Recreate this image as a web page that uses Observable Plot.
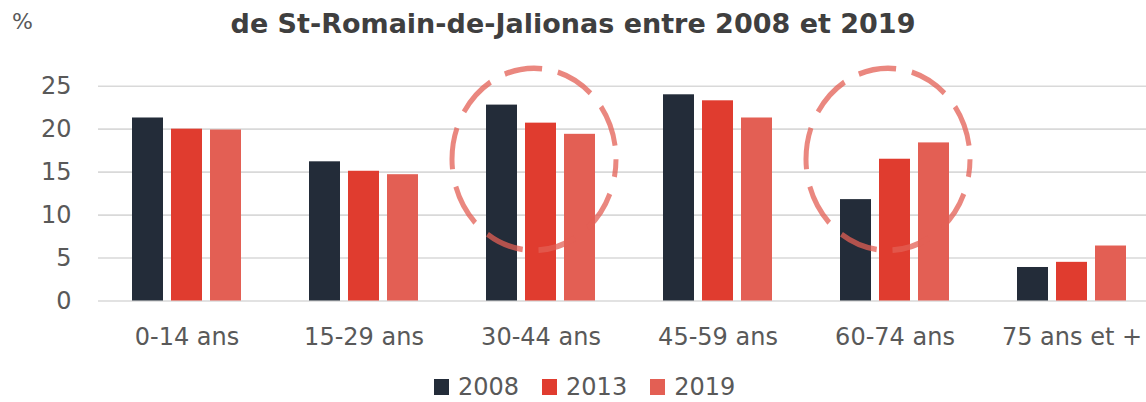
<!DOCTYPE html>
<html><head><meta charset="utf-8">
<script src="https://cdn.jsdelivr.net/npm/d3@7"></script>
<script src="https://cdn.jsdelivr.net/npm/@observablehq/plot@0.6"></script>
<style>
html,body{margin:0;padding:0;background:#fff;overflow:hidden;}
#wrap{position:relative;width:1146px;height:402px;font-family:"DejaVu Sans",sans-serif;}
#pct{position:absolute;left:12px;top:11px;font-size:22px;color:#595959;line-height:1;}
#title{position:absolute;left:0;width:1146px;top:10px;text-align:center;font-weight:bold;font-size:27px;color:#3f3f3f;line-height:1;white-space:nowrap;}
#chart{position:absolute;left:0;top:45px;width:1146px;overflow:hidden;}
#chart circle{transform-box:fill-box;transform-origin:center;transform:scaleY(1.11);}
#legend{position:absolute;left:434px;top:375px;font-size:24px;color:#595959;line-height:1;white-space:nowrap;}
#legend .item{display:inline-block;margin-right:23px;}
#legend .sw{display:inline-block;width:15px;height:16px;margin-right:9px;vertical-align:baseline;}
</style>
</head><body>
<div id="wrap">
  <div id="pct">%</div>
  <div id="title">de St-Romain-de-Jalionas entre 2008 et 2019</div>
  <div id="chart"></div>
  <div id="legend"></div>
</div>
<script>
const ageGroups = ["0-14 ans", "15-29 ans", "30-44 ans", "45-59 ans", "60-74 ans", "75 ans et +"];
const years = ["2008", "2013", "2019"];
const values2008 = [21.3, 16.2, 22.8, 24.0, 11.8, 3.9];
const values2013 = [20.0, 15.1, 20.7, 23.3, 16.5, 4.5];
const values2019 = [19.9, 14.7, 19.4, 21.3, 18.4, 6.4];
const yTicks = [0, 5, 10, 15, 20, 25];
const highlightedGroups = ["30-44 ans", "60-74 ans"];

const colors = ["#232c39", "#e03c2f", "#e35f54"];

const series = [values2008, values2013, values2019];
const rows = [];
ageGroups.forEach((age, i) => {
  years.forEach((year, j) => rows.push({age, year, value: series[j][i]}));
});
const highlights = highlightedGroups.map(age => ({age, year: "2013", y: 16.5}));

const chart = Plot.plot({
  width: 1146,
  height: 310,
  marginTop: 40.7,
  marginBottom: 54.5,
  marginLeft: 96,
  marginRight: -15.4,
  style: {fontFamily: "DejaVu Sans, sans-serif", fontSize: "24px", color: "#595959", background: "transparent", overflow: "visible"},
  fx: {domain: ageGroups, padding: 0, axis: "bottom", tickSize: 0, tickPadding: 26.5, label: null},
  x: {domain: years, axis: null, paddingInner: 0.21, paddingOuter: 0.87},
  y: {domain: [0, 25], ticks: yTicks, tickSize: 0, tickPadding: 27, label: null},
  color: {domain: years, range: colors},
  marks: [
    Plot.ruleY(yTicks, {stroke: "#d9d9d9", strokeWidth: 1.6}),
    Plot.barY(rows, {fx: "age", x: "year", y: "value", fill: "year"}),
    Plot.dot(highlights, {fx: "age", x: "year", y: "y", r: 82, dx: -7, fill: "none",
      stroke: "#e35f54", strokeOpacity: 0.75, strokeWidth: 5, strokeDasharray: "38 16", strokeDashoffset: 22})
  ]
});
document.getElementById("chart").appendChild(chart);

const legend = document.getElementById("legend");
years.forEach((y, i) => {
  const item = document.createElement("span");
  item.className = "item";
  const sw = document.createElement("span");
  sw.className = "sw";
  sw.style.background = colors[i];
  item.appendChild(sw);
  item.appendChild(document.createTextNode(y));
  legend.appendChild(item);
});
</script>
</body></html>
